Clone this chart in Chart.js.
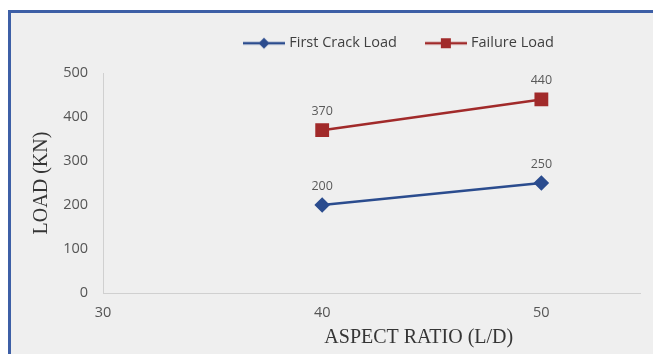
<!DOCTYPE html>
<html>
<head>
<meta charset="utf-8">
<script src="https://cdn.jsdelivr.net/npm/chart.js@4/dist/chart.umd.min.js"></script>
<style>
  html, body { margin: 0; padding: 0; background: #ffffff; }
  #wrap { width: 653px; height: 354px; }
</style>
</head>
<body>
<div id="wrap"><canvas id="c" width="653" height="354"></canvas></div>
<script>
// Aspect ratio (L/D) of the tested specimens
const aspectRatios = [40, 50];
// Loads in kN
const firstCrackLoad = [200, 250];
const failureLoad = [370, 440];
const xTickValues = [30, 40, 50];
const seriesNames = ['First Crack Load', 'Failure Load'];
const xAxisTitle = 'ASPECT RATIO (L/D)';
const yAxisTitle = 'LOAD (KN)';

const BLUE = '#2b4c8e';
const RED = '#a12a2a';
const SANS = '"Open Sans", Lato, sans-serif';
const SERIF = '"Liberation Serif", "DejaVu Serif", serif';

// Legend swatch: a short line with the series marker in the middle
function legendSwatch(color, shape) {
  const cv = document.createElement('canvas');
  cv.width = 42; cv.height = 14;
  const g = cv.getContext('2d');
  g.strokeStyle = color; g.lineWidth = 2.5;
  g.beginPath(); g.moveTo(0, 7); g.lineTo(42, 7); g.stroke();
  g.fillStyle = color;
  if (shape === 'diamond') {
    g.beginPath(); g.moveTo(21, 1.5); g.lineTo(26.5, 7); g.lineTo(21, 12.5); g.lineTo(15.5, 7); g.closePath(); g.fill();
  } else {
    g.fillRect(16, 2, 10, 10);
  }
  return cv;
}

const toPoints = (xs, ys) => xs.map((x, i) => ({ x: x, y: ys[i] }));

// Frame: grey panel with a blue rule along the top and left;
// also nudges the legend row so it starts at x = 246
const framePlugin = {
  id: 'frame',
  beforeDraw(chart) {
    const lg = chart.legend;
    if (lg && !lg._shifted && lg.legendHitBoxes && lg.legendHitBoxes.length) {
      const shift = 246 - lg.legendHitBoxes[0].left;
      lg.left += shift; lg.right += shift;
      lg._shifted = true;
    }
    const ctx = chart.ctx;
    ctx.save();
    ctx.fillStyle = '#ffffff';
    ctx.fillRect(0, 0, chart.width, chart.height);
    ctx.fillStyle = '#efefef';
    ctx.fillRect(8, 10, chart.width - 8, chart.height - 10);
    ctx.fillStyle = '#3d5fa6';
    ctx.fillRect(8, 10, chart.width - 8, 3);
    ctx.fillRect(8, 10, 3, chart.height - 10);
    ctx.restore();
  }
};

// Value labels above each point and the horizontal axis title
const annotations = {
  id: 'annotations',
  afterDatasetsDraw(chart) {
    const ctx = chart.ctx;
    ctx.save();
    ctx.font = '12.5px ' + SANS;
    ctx.fillStyle = '#595959';
    ctx.textAlign = 'center';
    ctx.textBaseline = 'middle';
    chart.data.datasets.forEach((ds, di) => {
      chart.getDatasetMeta(di).data.forEach((pt, i) => {
        ctx.fillText(String(ds.data[i].y), pt.x, pt.y - 19);
      });
    });
    const xs = chart.scales.x;
    ctx.font = '20px ' + SERIF;
    ctx.fillStyle = '#353535';
    ctx.fillText(xAxisTitle, xs.left + xs.width * 0.588, 338);
    ctx.restore();
  }
};

new Chart(document.getElementById('c'), {
  type: 'scatter',
  data: {
    datasets: [
      {
        label: seriesNames[0],
        data: toPoints(aspectRatios, firstCrackLoad),
        showLine: true,
        borderColor: BLUE,
        backgroundColor: BLUE,
        borderWidth: 2.5,
        pointStyle: 'rectRot',
        pointRadius: 6,
        pointHoverRadius: 6,
        legendIcon: legendSwatch(BLUE, 'diamond')
      },
      {
        label: seriesNames[1],
        data: toPoints(aspectRatios, failureLoad),
        showLine: true,
        borderColor: RED,
        backgroundColor: RED,
        borderWidth: 2.5,
        pointStyle: 'rect',
        pointRadius: 8,
        pointHoverRadius: 8,
        legendIcon: legendSwatch(RED, 'square')
      }
    ]
  },
  options: {
    responsive: false,
    animation: false,
    layout: { padding: { top: 5, right: 13, left: 0, bottom: 0 } },
    plugins: {
      tooltip: { enabled: false },
      // empty spacer row between the legend and the plot
      subtitle: {
        display: true,
        text: '',
        position: 'top',
        weight: 100,
        font: { size: 1 },
        padding: { top: 11.3, bottom: 0 }
      },
      legend: {
        position: 'top',
        align: 'center',
        labels: {
          usePointStyle: true,
          pointStyleWidth: 36,
          padding: 31,
          color: '#3f3f3f',
          font: { family: SANS, size: 14.5 },
          generateLabels(chart) {
            return chart.data.datasets.map((ds, i) => ({
              text: ds.label,
              pointStyle: ds.legendIcon,
              fillStyle: ds.borderColor,
              strokeStyle: ds.borderColor,
              lineWidth: 0,
              hidden: false,
              datasetIndex: i,
              fontColor: '#3f3f3f'
            }));
          }
        }
      }
    },
    scales: {
      x: {
        type: 'linear',
        min: 30,
        max: 54.5,
        afterBuildTicks(scale) {
          scale.ticks = xTickValues.map(v => ({ value: v }));
        },
        afterFit(scale) { scale.height = 61; },
        grid: { display: false, drawTicks: false },
        border: { display: true, color: '#d0d0d0', width: 1 },
        ticks: {
          padding: 11,
          color: '#555555',
          font: { family: SANS, size: 14.5 }
        },
        title: { display: false }
      },
      y: {
        min: 0,
        max: 500,
        ticks: {
          stepSize: 100,
          padding: 15,
          color: '#555555',
          font: { family: SANS, size: 14.5 }
        },
        afterFit(scale) { scale.width = 103; },
        grid: { display: false, drawTicks: false },
        border: { display: true, color: '#d0d0d0', width: 1 },
        title: {
          display: true,
          text: yAxisTitle,
          color: '#353535',
          padding: { top: 30, bottom: 0 },
          font: { family: SERIF, size: 20 }
        }
      }
    }
  },
  plugins: [framePlugin, annotations]
});
</script>
</body>
</html>
